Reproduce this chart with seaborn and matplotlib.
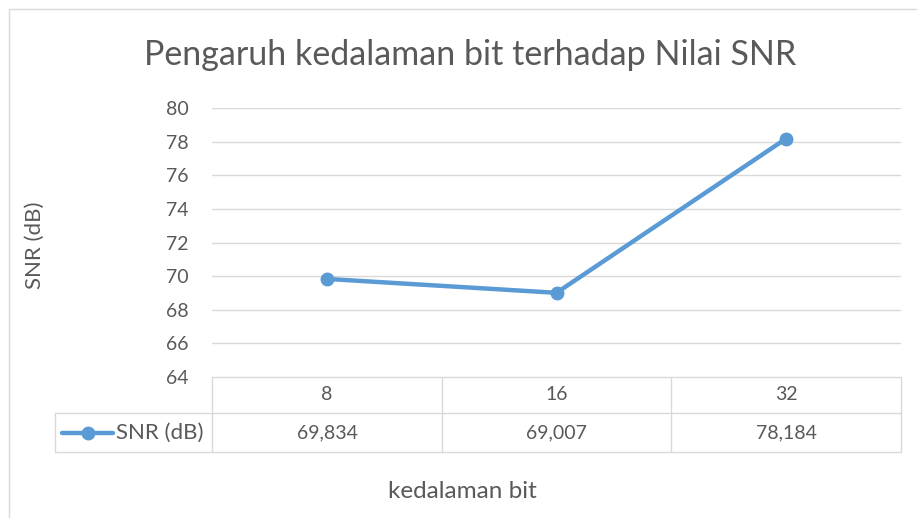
import seaborn as sns
import matplotlib.pyplot as plt
from matplotlib.patches import Rectangle

# data
bits = ["8", "16", "32"]
snr_db = [69.834, 69.007, 78.184]
series_name = "SNR (dB)"

W, H = 917, 518
BLUE = "#5b9bd5"
GRID = "#d9d9d9"
TXT = "#595959"

sns.set_theme(style="white")
plt.rcParams["font.family"] = ["Lato", "DejaVu Sans"]

fig = plt.figure(figsize=(W / 100, H / 100), dpi=100)

# plot area in pixels
x0, x1, ytop, ybot = 212, 901, 108, 377
ax = fig.add_axes([x0 / W, 1 - ybot / H, (x1 - x0) / W, (ybot - ytop) / H])

xpos = list(range(len(bits)))
sns.lineplot(x=xpos, y=snr_db, ax=ax, color=BLUE, linewidth=3.2,
             marker="o", markersize=10, markeredgewidth=0, zorder=3)

ax.set_xlim(-0.5, len(bits) - 0.5)
ax.set_ylim(64, 80)
ax.set_yticks(range(64, 81, 2))
ax.set_xticks([])
for v in range(66, 81, 2):
    ax.axhline(v, color=GRID, linewidth=1, zorder=1)
for s in ax.spines.values():
    s.set_visible(False)
ax.tick_params(axis="y", length=0, pad=17, labelsize=14, labelcolor=TXT)
ax.set_xlabel("")
ax.set_ylabel("")


def fx(px):
    return px / W


def fy(py):
    return 1 - py / H


# chart border
fig.patches.append(Rectangle((fx(9), fy(530)), fx(930) - fx(9), fy(9) - fy(530),
                             transform=fig.transFigure, fill=False,
                             edgecolor=GRID, linewidth=1))

# data table
r0, r1, r2 = 377, 413, 452
cols = [212, 442, 671, 901]
line_kw = dict(color=GRID, linewidth=1, transform=fig.transFigure)
fig.add_artist(plt.Line2D([fx(212), fx(901)], [fy(r0), fy(r0)], **line_kw))
for r in (r1, r2):
    fig.add_artist(plt.Line2D([fx(55), fx(901)], [fy(r), fy(r)], **line_kw))
fig.add_artist(plt.Line2D([fx(55), fx(55)], [fy(r1), fy(r2)], **line_kw))
for c in cols:
    fig.add_artist(plt.Line2D([fx(c), fx(c)], [fy(r0), fy(r2)], **line_kw))

for i, (b, v) in enumerate(zip(bits, snr_db)):
    cx = (cols[i] + cols[i + 1]) / 2
    fig.text(fx(cx), fy((r0 + r1) / 2), b, ha="center", va="center",
             fontsize=14, color=TXT)
    fig.text(fx(cx), fy((r1 + r2) / 2), f"{v:.3f}".replace(".", ","),
             ha="center", va="center", fontsize=14, color=TXT)

# legend key in table
ly = fy((r1 + r2) / 2)
fig.add_artist(plt.Line2D([fx(62), fx(113)], [ly, ly], color=BLUE,
                          linewidth=3.2, transform=fig.transFigure))
fig.add_artist(plt.Line2D([fx(87.5)], [ly], color=BLUE, marker="o",
                          markersize=10, markeredgewidth=0,
                          transform=fig.transFigure))
fig.text(fx(116), ly, series_name, ha="left", va="center", fontsize=16,
         color=TXT)

# titles
fig.text(fx(470), fy(55), "Pengaruh kedalaman bit terhadap Nilai SNR",
         ha="center", va="center", fontsize=24.5, color=TXT)
fig.text(fx(35), fy(245), "SNR (dB)", ha="center", va="center",
         rotation=90, fontsize=16, color=TXT)
fig.text(fx(462), fy(492), "kedalaman bit", ha="center", va="center",
         fontsize=17.5, color=TXT)

fig.savefig("out.png", dpi=100)
